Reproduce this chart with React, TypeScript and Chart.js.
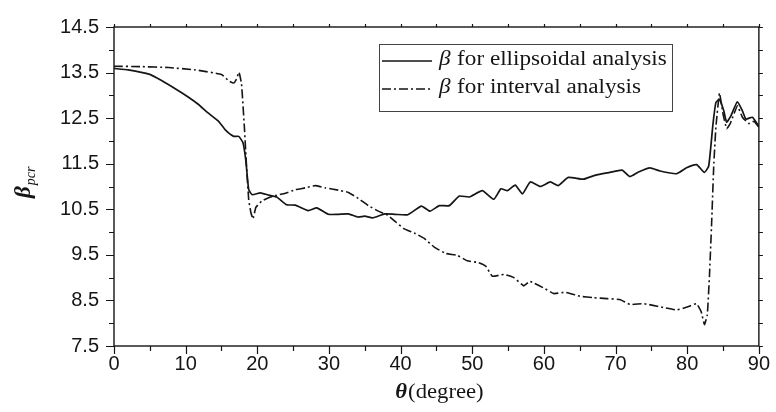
import React, { useEffect, useRef } from "react";
import { Chart, registerables } from "chart.js";

Chart.register(...registerables);

// ---- data ----
const thetaEllip = [0, 2, 5, 6.7, 8.6, 10.4, 11.8, 13, 14.6, 15.5, 16.7, 17.4, 18, 18.4, 18.8, 19.3, 20.4, 21.6, 22.7, 24.1, 25.3, 27.1, 28.3, 29.9, 31.3, 32.7, 34.1, 35, 36.1, 37.8, 39.2, 41, 42.9, 44.1, 45.4, 46.8, 48.2, 49.6, 51.4, 53, 54, 54.9, 56, 57, 58.1, 59.5, 60.9, 62, 63.4, 65.5, 67.2, 69.2, 70.9, 72, 73.2, 74.8, 76.2, 78.5, 79.9, 81.3, 82.4, 83, 83.6, 84, 84.5, 85.1, 85.5, 86.1, 87, 87.7, 88.2, 89.1, 90];
const betaEllip = [13.59, 13.56, 13.46, 13.32, 13.14, 12.96, 12.8, 12.63, 12.43, 12.25, 12.1, 12.1, 11.96, 11.57, 10.93, 10.82, 10.86, 10.81, 10.77, 10.6, 10.59, 10.47, 10.53, 10.39, 10.39, 10.4, 10.33, 10.35, 10.31, 10.4, 10.39, 10.38, 10.57, 10.46, 10.58, 10.58, 10.79, 10.77, 10.91, 10.72, 10.95, 10.91, 11.03, 10.84, 11.1, 11.0, 11.1, 11.02, 11.2, 11.16, 11.25, 11.31, 11.36, 11.22, 11.32, 11.41, 11.34, 11.28, 11.41, 11.48, 11.31, 11.45, 12.38, 12.84, 12.91, 12.66, 12.41, 12.55, 12.86, 12.66, 12.48, 12.52, 12.32];

const thetaInterval = [0, 3.9, 7.6, 11.3, 15, 16, 16.7, 17.1, 17.45, 17.8, 18.2, 18.5, 18.8, 19.1, 19.4, 19.8, 20.6, 21.5, 22.5, 23.9, 25.3, 26.7, 28.1, 29.5, 31.3, 32.7, 34.1, 35.5, 36.9, 38.2, 39.4, 40.5, 41.9, 43.3, 44.7, 46.3, 47.9, 49.3, 50.9, 51.9, 52.8, 54.4, 55.8, 57.2, 58, 60, 61.4, 63, 65.1, 66.9, 68.8, 70.6, 72, 73.9, 76.2, 78.5, 80.1, 81.3, 81.95, 82.4, 82.8, 83.1, 83.4, 83.7, 84, 84.5, 85, 85.5, 86, 87, 87.7, 88.6, 89.3, 90];
const betaInterval = [13.64, 13.63, 13.61, 13.56, 13.46, 13.32, 13.27, 13.36, 13.51, 13.25, 12.29, 11.43, 10.71, 10.43, 10.29, 10.54, 10.68, 10.75, 10.8, 10.85, 10.93, 10.97, 11.02, 10.97, 10.92, 10.87, 10.74, 10.58, 10.46, 10.37, 10.21, 10.07, 9.98, 9.86, 9.67, 9.53, 9.49, 9.37, 9.33, 9.25, 9.03, 9.07, 9.0, 8.82, 8.92, 8.77, 8.65, 8.68, 8.59, 8.56, 8.54, 8.52, 8.41, 8.43, 8.36, 8.29, 8.36, 8.43, 8.25, 7.97, 8.18, 9.03, 10.17, 11.45, 12.3, 13.05, 12.59, 12.27, 12.38, 12.77, 12.52, 12.38, 12.43, 12.3];

const yTickValues = [7.5, 8.5, 9.5, 10.5, 11.5, 12.5, 13.5, 14.5];
const xTickValues = [0, 10, 20, 30, 40, 50, 60, 70, 80, 90];
const seriesLabels = ["for ellipsoidal analysis", "for interval analysis"];
const legendSymbol = "β";
const yTitleMain = "β";
const yTitleSub = "pcr";
const xTitleSymbol = "θ";
const xTitleText = "(degree)";

const INK = "#151515";
const SERIF = "'Liberation Serif', 'DejaVu Serif', serif";
const SANS = "'Liberation Sans', Arial, sans-serif";

const framePlugin = {
  id: "framePlugin",
  afterDraw(chart: any) {
    const ctx = chart.ctx as CanvasRenderingContext2D;
    const { left, right, top, bottom } = chart.chartArea;
    const xs = chart.scales.x;
    const ys = chart.scales.y;
    ctx.save();
    ctx.strokeStyle = INK;
    ctx.lineWidth = 1.4;
    ctx.strokeRect(left, top, right - left, bottom - top);
    ctx.lineWidth = 1.2;
    ctx.beginPath();
    for (let v = 7.5; v <= 14.5001; v += 0.5) {
      const py = Math.round(ys.getPixelForValue(v)) + 0.5;
      const major = Math.abs((v - 7.5) % 1) < 1e-6;
      ctx.moveTo(left, py);
      ctx.lineTo(left - (major ? 8 : 5), py);
      ctx.moveTo(right, py);
      ctx.lineTo(right + 4, py);
    }
    for (let v = 0; v <= 90.001; v += 5) {
      const px = Math.round(xs.getPixelForValue(v)) + 0.5;
      const major = v % 10 === 0;
      ctx.moveTo(px, bottom);
      ctx.lineTo(px, bottom + (major ? 8 : 5));
      ctx.moveTo(px, top);
      ctx.lineTo(px, top - 3);
    }
    ctx.stroke();

    // legend
    const bx = 379, by = 44, bw = 293, bh = 67;
    ctx.strokeStyle = "#444";
    ctx.lineWidth = 1;
    ctx.strokeRect(bx + 0.5, by + 0.5, bw, bh);
    chart.data.datasets.forEach((ds: any, i: number) => {
      const ly = by + 17 + i * 28;
      ctx.strokeStyle = INK;
      ctx.lineWidth = 1.6;
      ctx.setLineDash(ds.borderDash || []);
      ctx.beginPath();
      ctx.moveTo(bx + 3, ly);
      ctx.lineTo(bx + 53, ly);
      ctx.stroke();
      ctx.setLineDash([]);
      ctx.fillStyle = INK;
      ctx.textBaseline = "middle";
      ctx.textAlign = "left";
      ctx.save();
      ctx.translate(bx + 60, ly - 1);
      ctx.scale(1.13, 1);
      ctx.font = `italic 20.5px ${SERIF}`;
      ctx.fillText(legendSymbol, 0, 0);
      ctx.font = `20.5px ${SERIF}`;
      ctx.fillText(ds.label, 16, 0);
      ctx.restore();
    });

    // y title
    ctx.save();
    ctx.translate(30, 198);
    ctx.rotate(-Math.PI / 2);
    ctx.textAlign = "left";
    ctx.textBaseline = "alphabetic";
    ctx.font = `bold italic 23px ${SERIF}`;
    ctx.fillText(yTitleMain, 0, 0);
    const bw2 = ctx.measureText(yTitleMain).width;
    ctx.font = `italic 14px ${SERIF}`;
    ctx.fillText(yTitleSub, bw2 + 1, 5);
    ctx.restore();

    // x title
    ctx.save();
    ctx.textAlign = "left";
    ctx.textBaseline = "alphabetic";
    ctx.font = `bold italic 21px ${SERIF}`;
    const tw = ctx.measureText(xTitleSymbol).width;
    ctx.font = `21px ${SERIF}`;
    const dw = ctx.measureText(xTitleText).width;
    const sxk = 1.08;
    const total = (tw + dw + 1) * sxk;
    ctx.translate((left + right) / 2 - total / 2 + 3, 398);
    ctx.scale(sxk, 1);
    ctx.font = `bold italic 21px ${SERIF}`;
    ctx.fillText(xTitleSymbol, 0, 0);
    ctx.font = `21px ${SERIF}`;
    ctx.fillText(xTitleText, tw + 1, 0);
    ctx.restore();
    ctx.restore();
  },
};

export default function App() {
  const ref = useRef<HTMLCanvasElement | null>(null);
  useEffect(() => {
    if (!ref.current) return;
    const chart = new Chart(ref.current, {
      type: "line",
      data: {
        datasets: [
          {
            label: seriesLabels[0],
            data: thetaEllip.map((x, i) => ({ x, y: betaEllip[i] })),
            borderColor: INK,
            borderWidth: 1.7,
            pointRadius: 0,
            tension: 0.15,
            fill: false,
          },
          {
            label: seriesLabels[1],
            data: thetaInterval.map((x, i) => ({ x, y: betaInterval[i] })),
            borderColor: INK,
            borderWidth: 1.6,
            borderDash: [9, 3, 2, 3],
            pointRadius: 0,
            tension: 0.1,
            fill: false,
          },
        ],
      },
      options: {
        animation: false,
        responsive: false,
        maintainAspectRatio: false,
        layout: { padding: { left: 0, right: 13, top: 17, bottom: 0 } },
        plugins: { legend: { display: false }, tooltip: { enabled: false } },
        scales: {
          x: {
            type: "linear",
            min: 0,
            max: 90,
            afterBuildTicks: (s: any) => {
              s.ticks = xTickValues.map((v) => ({ value: v }));
            },
            afterFit: (s: any) => {
              s.height = 66;
            },
            grid: { display: false, drawTicks: false },
            border: { display: false },
            ticks: {
              color: INK,
              padding: 6,
              maxRotation: 0,
              font: { family: SANS, size: 20 },
            },
          },
          y: {
            type: "linear",
            min: 7.5,
            max: 14.5,
            afterBuildTicks: (s: any) => {
              s.ticks = yTickValues.map((v) => ({ value: v }));
            },
            afterFit: (s: any) => {
              s.width = 114;
            },
            grid: { display: false, drawTicks: false },
            border: { display: false },
            ticks: {
              color: INK,
              padding: 15,
              font: { family: SANS, size: 20 },
              callback: (v: any) => Number(v).toFixed(1),
            },
          },
        },
      },
      plugins: [framePlugin],
    });
    return () => chart.destroy();
  }, []);
  return (
    <div style={{ position: "fixed", left: 0, top: 0, width: 776, height: 412, background: "#fff" }}>
      <canvas ref={ref} width={776} height={412} style={{ width: 776, height: 412 }} />
    </div>
  );
}
